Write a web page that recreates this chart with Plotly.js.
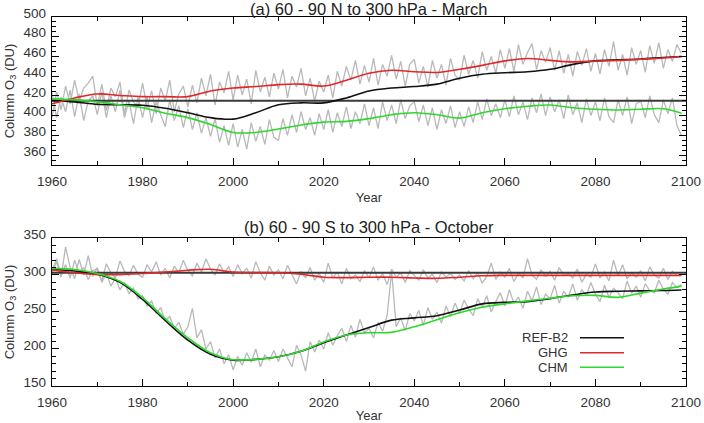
<!DOCTYPE html>
<html>
<head>
<meta charset="utf-8">
<script src="https://cdn.plot.ly/plotly-3.0.1.min.js"></script>
<style>html,body{margin:0;padding:0;background:#fff;}#chart{width:704px;height:423px;}</style>
</head>
<body>
<div id="chart"></div>
<script>
// ---------- data ----------
const rawYears = [];
for (let y = 1960; y <= 2099; y++) rawYears.push(y);

const smoothYears = [1960,1965,1970,1975,1980,1985,1990,1995,2000,2005,2010,2015,2020,2025,2030,2035,2040,2045,2050,2055,2060,2065,2070,2075,2080,2085,2090,2095,2099];

// Panel (a): 60-90N, March
const aRawGHG = [
398,424,406,430,412,436,415,428,433,440,
410,432,405,428,419,434,402,426,414,409,
433,408,425,402,428,415,436,404,422,430,
409,431,413,438,420,442,411,434,423,445,
416,441,421,437,412,446,424,439,419,443,
427,447,418,440,429,448,420,438,415,435,
424,441,418,445,430,450,436,456,432,451,
434,458,431,452,440,461,437,455,430,452,
457,433,450,429,456,438,452,431,458,441,
436,461,442,456,438,465,446,460,443,467,
448,468,445,472,452,464,473,447,466,454,
469,446,466,443,462,440,465,451,468,445,
463,442,467,450,475,446,462,441,469,452,
466,444,471,453,474,448,467,455,472,463];
const aRawCHM = [
424,398,419,404,426,399,422,395,415,420,
401,424,398,420,404,426,398,415,392,419,
398,420,393,414,401,389,416,395,410,388,
407,386,403,382,398,379,397,373,390,370,
392,368,386,366,393,374,389,371,396,378,
375,397,380,401,383,404,386,398,380,402,
386,406,383,403,389,409,387,404,392,412,
390,408,387,414,395,411,392,416,397,410,
414,394,411,390,408,386,406,392,410,388,
404,389,409,393,414,396,417,400,412,398,
416,399,420,401,414,396,418,403,422,400,
419,404,416,397,421,401,413,393,417,400,
414,395,418,399,393,416,400,419,392,412,
415,398,420,401,393,416,402,418,390,380];
const aREF = [415.5,414,411.5,411,410.5,407.5,403,398,396.5,403,411,413,413,418,425,428,429.5,432,438,442,443.5,444.5,447,452,455.5,456.5,457.5,459,460];
const aGHG = [412,418,422,420.5,419.3,419.3,419.3,425,428,429.5,431.5,432,430,436,443,446,444.5,443.8,447,451,455.5,458,456,454.5,455.4,456,457.2,458.5,460];
const aCHM = [417,416,414,411,408,402.4,398,391,383,383,386.5,390.6,393.5,394.2,397,401,403,401,397.5,403,407,409.5,410.8,408,406.5,405.8,406.5,407,402.5];

// Panel (b): 60-90S, October
const bRawGHG = [
302,318,297,338,310,295,321,300,326,298,
310,292,315,303,296,319,305,299,313,301,
297,314,304,318,300,309,296,312,303,320,
306,299,316,304,322,308,300,315,303,311,
298,314,302,309,296,318,303,293,312,300,
307,295,313,301,288,305,296,310,293,302,
290,316,296,304,288,309,295,300,291,306,
296,311,293,302,287,308,297,303,290,306,
299,293,307,296,301,290,304,297,302,294,
300,292,306,295,303,289,298,316,294,304,
297,309,291,303,296,322,300,294,307,298,
305,293,310,299,302,296,308,290,301,297,
315,296,304,292,320,299,314,295,303,297,
306,292,311,300,296,309,294,305,299,302];
const bRawCHM = [
305,322,300,314,296,320,302,310,294,306,
308,290,303,285,296,280,290,275,282,268,
272,258,265,248,256,238,244,228,236,220,
230,255,215,226,200,210,188,200,180,192,
172,190,178,195,182,200,176,192,185,198,
183,200,188,176,205,192,170,210,196,212,
200,222,205,218,228,210,232,216,240,222,
228,215,236,224,245,305,230,242,225,248,
238,252,232,256,240,250,235,258,244,262,
248,266,254,245,268,256,272,250,264,276,
258,280,262,270,255,278,265,284,260,274,
268,286,262,278,270,288,266,280,272,290,
274,264,286,270,282,276,268,292,275,285,
270,288,279,276,293,281,274,290,283,287];
const bREF = [307.5,305.5,301,290,267,238.5,212,193,185,186,189.5,197,208.5,219,229,239,242,245,252.7,261,263,264,268,273,277,278,278.5,279,279.7];
const bGHG = [306.8,303,300.5,300.5,302,304,306.5,307.7,304,303.2,303,301,297,296.5,297,297,296,295.5,297,299,299.5,299.5,299.5,299.5,299.5,299.5,299.5,299.5,299.5];
const bCHM = [309,307.5,302,291.5,269.5,241,215,195,185.5,186,189.5,197,209.5,218.9,222,222.5,230,239.5,249,256.5,261,265,268.5,272,272.5,269.8,275.5,281,285];

const refLevels = [415, 303];      // horizontal reference levels for panels a, b
const refSpan = [1960, 2100];
const seriesNames = ['REF-B2', 'GHG', 'CHM'];
const seriesColors = ['#111111', '#e0282a', '#2ed82e'];
const panelTitles = ['(a) 60 - 90 N to 300 hPa - March', '(b) 60 - 90 S to 300 hPa - October'];

// ---------- traces ----------
const FONT = 'Liberation Sans, Arial, Helvetica, sans-serif';
const traces = [];
function panel(raw1, raw2, smooth, ref, xa, ya) {
  [raw1, raw2].forEach(r => traces.push({x: rawYears, y: r, xaxis: xa, yaxis: ya, mode: 'lines',
    line: {color: '#b9b9b9', width: 1.3}, showlegend: false, hoverinfo: 'skip'}));
  traces.push({x: refSpan, y: [ref, ref], xaxis: xa, yaxis: ya, mode: 'lines',
    line: {color: '#3a3a3a', width: 2}, showlegend: false});
  smooth.forEach((s, i) => traces.push({x: smoothYears, y: s, xaxis: xa, yaxis: ya, mode: 'lines',
    name: seriesNames[i], line: {color: seriesColors[i], width: 1.6, shape: 'spline', smoothing: 1}, showlegend: false}));
}
panel(aRawGHG, aRawCHM, [aREF, aGHG, aCHM], refLevels[0], 'x', 'y');
panel(bRawGHG, bRawCHM, [bREF, bGHG, bCHM], refLevels[1], 'x2', 'y2');

// ---------- layout ----------
const tickFont = {family: FONT, size: 13.5, color: '#333'};
function xAxis(anchor) {
  return {anchor: anchor, range: [1960, 2100], tick0: 1960, dtick: 20, ticks: 'inside', ticklen: 7,
    tickcolor: '#000', minor: {dtick: 10, ticks: 'inside', ticklen: 4, tickcolor: '#000'},
    showline: true, linecolor: '#000', linewidth: 1.2, mirror: 'allticks', showgrid: false, zeroline: false,
    tickfont: tickFont, ticklabelstandoff: 4,
    title: {text: 'Year', font: {family: FONT, size: 13, color: '#333'}, standoff: 4}};
}
function yAxis(anchor, domain, range, dtick, minor) {
  return {anchor: anchor, domain: domain, range: range, dtick: dtick, tick0: 0, ticks: 'inside', ticklen: 7,
    tickcolor: '#000', minor: {dtick: minor, ticks: 'inside', ticklen: 4, tickcolor: '#000'},
    showline: true, linecolor: '#000', linewidth: 1.2, mirror: 'allticks', showgrid: false, zeroline: false,
    tickfont: tickFont, ticklabelshift: -4, ticklabelstandoff: 2,
    title: {text: 'Column O<sub>3</sub> (DU)', font: {family: FONT, size: 13, color: '#333'}, standoff: 6}};
}

const annotations = [
  {text: panelTitles[0], xref: 'paper', yref: 'paper', x: 0.5, y: 1.022, xanchor: 'center', yanchor: 'middle',
   showarrow: false, font: {family: FONT, size: 16.5, color: '#222'}},
  {text: panelTitles[1], xref: 'paper', yref: 'paper', x: 0.5, y: 0.432, xanchor: 'center', yanchor: 'middle',
   showarrow: false, font: {family: FONT, size: 16.5, color: '#222'}}
];
const shapes = [];
const legendRows = [0.1309, 0.0902, 0.0507];
seriesNames.forEach((n, i) => {
  annotations.push({text: n, xref: 'paper', yref: 'paper', x: 0.817, y: legendRows[i], xanchor: 'right', yanchor: 'middle',
    showarrow: false, font: {family: FONT, size: 13, color: '#333'}});
  shapes.push({type: 'line', xref: 'paper', yref: 'paper', x0: 0.8328, x1: 0.9022, y0: legendRows[i], y1: legendRows[i],
    line: {color: seriesColors[i], width: 1.6}});
});

const layout = {
  width: 704, height: 423,
  margin: {l: 52, r: 18, t: 17, b: 37},
  paper_bgcolor: '#fff', plot_bgcolor: '#fff',
  showlegend: false,
  xaxis: xAxis('y'),
  yaxis: yAxis('x', [0.5989, 1], [350, 500], 20, 5),
  xaxis2: xAxis('y2'),
  yaxis2: yAxis('x2', [0, 0.4011], [150, 350], 50, 10),
  annotations: annotations,
  shapes: shapes,
  font: {family: FONT}
};

Plotly.newPlot('chart', traces, layout, {staticPlot: true, displayModeBar: false});
</script>
</body>
</html>
